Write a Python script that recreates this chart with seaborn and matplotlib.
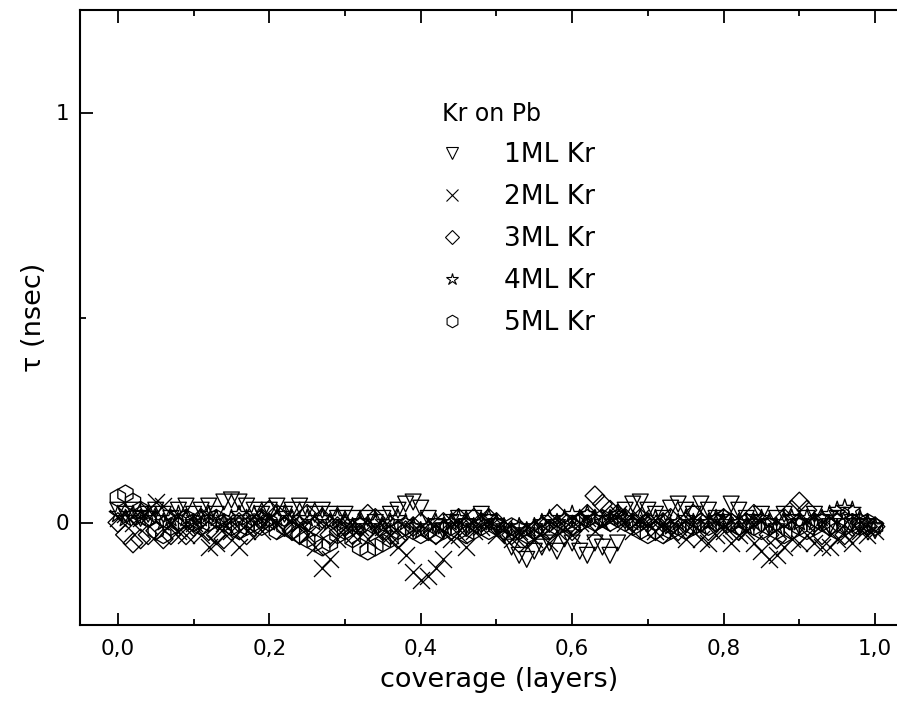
import matplotlib
matplotlib.use("Agg")
import matplotlib.pyplot as plt
import seaborn as sns
import pandas as pd
from matplotlib.lines import Line2D
from matplotlib.ticker import MultipleLocator, FuncFormatter

coverage = [0.00, 0.01, 0.02, 0.03, 0.04, 0.05, 0.06, 0.07, 0.08, 0.09,
            0.10, 0.11, 0.12, 0.13, 0.14, 0.15, 0.16, 0.17, 0.18, 0.19,
            0.20, 0.21, 0.22, 0.23, 0.24, 0.25, 0.26, 0.27, 0.28, 0.29,
            0.30, 0.31, 0.32, 0.33, 0.34, 0.35, 0.36, 0.37, 0.38, 0.39,
            0.40, 0.41, 0.42, 0.43, 0.44, 0.45, 0.46, 0.47, 0.48, 0.49,
            0.50, 0.51, 0.52, 0.53, 0.54, 0.55, 0.56, 0.57, 0.58, 0.59,
            0.60, 0.61, 0.62, 0.63, 0.64, 0.65, 0.66, 0.67, 0.68, 0.69,
            0.70, 0.71, 0.72, 0.73, 0.74, 0.75, 0.76, 0.77, 0.78, 0.79,
            0.80, 0.81, 0.82, 0.83, 0.84, 0.85, 0.86, 0.87, 0.88, 0.89,
            0.90, 0.91, 0.92, 0.93, 0.94, 0.95, 0.96, 0.97, 0.98, 0.99, 1.00]

tau_1ml = [0.03, 0.02, 0.03, 0.01, 0.02, 0.03, 0.02, 0.01, 0.03, 0.04,
           0.02, 0.03, 0.04, 0.02, 0.05, 0.055, 0.05, 0.04, 0.03, 0.02,
           0.03, 0.04, 0.02, 0.03, 0.04, 0.03, 0.02, 0.03, 0.02, 0.01,
           0.02, 0.01, -0.01, 0.01, 0.00, 0.01, 0.02, 0.03, 0.045, 0.05,
           0.035, 0.01, -0.01, -0.02, 0.00, 0.01, -0.01, 0.01, 0.02, 0.00,
           -0.01, -0.03, -0.06, -0.08, -0.09, -0.07, -0.06, -0.05, -0.07, -0.04,
           -0.05, -0.07, -0.08, -0.05, -0.06, -0.08, -0.05, 0.03, 0.045, 0.05,
           0.03, 0.02, 0.01, 0.035, 0.045, 0.03, 0.02, 0.045, 0.03, 0.01,
           0.00, 0.045, 0.03, 0.01, 0.00, 0.02, -0.01, 0.01, 0.02, 0.00,
           -0.01, 0.01, 0.02, 0.00, -0.01, 0.01, -0.01, 0.00, -0.01, -0.01, -0.02]

tau_2ml = [0.01, 0.02, 0.00, 0.01, 0.03, 0.05, 0.04, 0.00, -0.02, -0.03,
           0.00, -0.03, -0.06, -0.05, 0.00, -0.02, -0.06, -0.02, 0.00, -0.02,
           0.01, 0.00, -0.02, 0.01, 0.00, -0.03, -0.06, -0.11, -0.09, -0.04,
           -0.01, -0.03, -0.01, -0.04, -0.02, -0.01, -0.03, -0.06, -0.08, -0.12,
           -0.14, -0.13, -0.11, -0.09, -0.04, -0.03, -0.06, -0.02, -0.01, 0.00,
           -0.03, -0.01, -0.04, -0.02, -0.01, -0.04, -0.02, -0.05, -0.02, -0.01,
           -0.03, 0.00, 0.01, -0.02, 0.00, 0.01, 0.02, 0.00, -0.02, 0.01,
           0.00, -0.02, 0.00, -0.03, -0.01, -0.04, -0.02, -0.04, -0.05, -0.03,
           -0.02, -0.05, -0.03, -0.02, -0.05, -0.07, -0.09, -0.08, -0.06, -0.04,
           -0.05, -0.03, -0.05, -0.06, -0.06, -0.04, -0.03, -0.05, -0.02, -0.03, -0.02]

tau_3ml = [0.00, -0.03, -0.05, -0.04, -0.03, -0.02, -0.04, -0.03, -0.01, -0.03,
           -0.01, 0.01, -0.02, -0.03, -0.04, -0.02, 0.00, -0.03, -0.01, 0.01,
           0.03, 0.02, -0.01, -0.02, -0.03, 0.02, -0.01, 0.01, -0.03, -0.01,
           -0.01, -0.03, -0.01, 0.02, 0.01, -0.02, -0.03, -0.04, -0.02, -0.01,
           0.00, -0.02, -0.03, 0.00, -0.02, 0.01, -0.01, 0.01, 0.00, 0.01,
           0.00, -0.02, -0.03, -0.05, -0.04, -0.02, -0.01, 0.00, 0.02, 0.00,
           -0.02, 0.00, 0.02, 0.065, 0.045, 0.03, 0.02, 0.01, 0.00, 0.01,
           0.00, -0.02, 0.00, 0.01, -0.02, 0.00, 0.02, 0.00, -0.02, 0.00,
           0.01, 0.00, -0.02, 0.00, 0.02, 0.00, -0.03, -0.04, 0.01, 0.03,
           0.05, 0.03, 0.00, -0.03, -0.01, 0.00, -0.03, -0.01, 0.00, -0.01, -0.01]

tau_4ml = [0.02, 0.01, 0.02, 0.01, 0.02, 0.01, 0.00, 0.01, 0.02, 0.01,
           0.00, 0.01, 0.02, 0.01, 0.00, 0.01, 0.02, 0.01, 0.02, 0.01,
           0.00, 0.01, 0.02, 0.01, 0.00, 0.01, 0.00, 0.01, 0.00, 0.01,
           0.00, -0.01, 0.00, -0.01, 0.00, -0.01, 0.00, 0.01, 0.00, -0.01,
           -0.02, -0.01, 0.00, -0.01, 0.00, 0.01, 0.00, -0.01, 0.00, 0.01,
           0.00, -0.01, -0.02, -0.01, -0.02, -0.01, 0.00, 0.01, 0.00, 0.01,
           0.02, 0.01, 0.02, 0.01, 0.00, 0.01, 0.02, 0.01, 0.00, 0.01,
           0.00, 0.01, 0.00, -0.01, 0.00, 0.01, 0.00, -0.01, 0.00, 0.01,
           0.00, -0.01, 0.00, -0.01, 0.00, 0.01, 0.00, -0.01, 0.00, 0.01,
           0.00, 0.01, 0.00, 0.01, 0.02, 0.03, 0.035, 0.03, 0.01, 0.00, -0.01]

tau_5ml = [0.06, 0.07, 0.05, 0.03, 0.01, -0.02, -0.03, -0.01, 0.00, 0.01,
           0.00, -0.01, 0.00, 0.01, 0.00, -0.01, -0.02, -0.01, 0.00, -0.01,
           0.00, -0.02, -0.01, -0.02, -0.03, -0.04, -0.05, -0.06, -0.05, -0.03,
           -0.02, -0.04, -0.06, -0.07, -0.06, -0.05, -0.04, -0.02, -0.01, -0.02,
           -0.03, -0.02, -0.03, -0.02, -0.01, -0.02, -0.03, -0.02, -0.01, -0.02,
           -0.01, -0.02, -0.01, -0.02, -0.03, -0.02, -0.01, -0.02, -0.01, 0.00,
           -0.01, 0.00, 0.01, 0.00, 0.01, 0.00, 0.01, 0.00, -0.01, -0.02,
           -0.03, -0.02, -0.03, -0.02, -0.01, -0.02, -0.01, 0.00, -0.01, 0.00,
           0.01, 0.00, -0.01, 0.00, -0.01, -0.02, -0.01, -0.02, -0.03, -0.02,
           -0.01, -0.02, -0.01, 0.00, -0.01, -0.02, -0.01, 0.00, -0.01, 0.00, -0.01]

series_labels = ["1ML Kr", "2ML Kr", "3ML Kr", "4ML Kr", "5ML Kr"]
series_values = [tau_1ml, tau_2ml, tau_3ml, tau_4ml, tau_5ml]
series_markers = ["v", "x", "D", "*", "h"]
legend_title = "Kr on Pb"
x_label = "coverage (layers)"
y_label = "\u03c4 (nsec)"

sns.set_style("ticks")
plt.rcParams['font.family'] = ['DejaVu Sans']
for key in ["text.color", "axes.labelcolor", "xtick.color", "ytick.color", "axes.edgecolor"]:
    plt.rcParams[key] = "black"

fig = plt.figure(figsize=(8.97, 7.01), dpi=100)
ax = fig.add_axes([80/897, 76/701, 817/897, 615/701])

sizes = {"v": 130, "x": 150, "D": 100, "*": 170, "h": 160}
for lab, vals, mk in zip(series_labels, series_values, series_markers):
    df = pd.DataFrame({"coverage": coverage, "tau": vals})
    if mk == "x":
        sns.scatterplot(data=df, x="coverage", y="tau", marker=mk, color="black",
                        s=sizes[mk], linewidth=0.95, ax=ax, legend=False)
    else:
        sns.scatterplot(data=df, x="coverage", y="tau", marker=mk, facecolor="none",
                        edgecolor="black", s=sizes[mk], linewidth=0.95, ax=ax, legend=False)

ax.set_xlim(-0.05, 1.029)
ax.set_ylim(-0.25, 1.25)
ax.xaxis.set_major_locator(MultipleLocator(0.2))
ax.xaxis.set_minor_locator(MultipleLocator(0.1))
ax.yaxis.set_major_locator(MultipleLocator(1.0))
ax.yaxis.set_minor_locator(MultipleLocator(0.5))
ax.xaxis.set_major_formatter(FuncFormatter(lambda v, p: f"{v:.1f}".replace(".", ",")))
ax.yaxis.set_major_formatter(FuncFormatter(lambda v, p: f"{v:.0f}"))
ax.tick_params(which="both", direction="in", top=True, right=False, width=1.3,
               labelsize=15.5)
ax.tick_params(axis="x", pad=10)
ax.tick_params(axis="y", pad=8)
ax.tick_params(which="major", length=9)
ax.tick_params(which="minor", length=4.5)
for sp in ax.spines.values():
    sp.set_linewidth(1.5)
ax.spines["right"].set_visible(False)
ax.set_xlabel(x_label, fontsize=19.5, labelpad=6)
ax.xaxis.label.set_x((499 - 80) / 817)
ax.set_ylabel(y_label, fontsize=19.5, labelpad=6)

handles = []
for mk in series_markers:
    if mk == "x":
        handles.append(Line2D([], [], marker=mk, ls="none", color="black", ms=9, mew=0.8))
    else:
        handles.append(Line2D([], [], marker=mk, ls="none", mfc="none", mec="black",
                              ms=9 if mk != "D" else 7, mew=0.8))
leg = ax.legend(handles, series_labels, title=legend_title, frameon=False,
                loc="upper left", bbox_to_anchor=(442/897, 1 - 102/701),
                bbox_transform=fig.transFigure, fontsize=19, title_fontsize=17,
                labelspacing=0.61, handlelength=0.75, handletextpad=1.6,
                borderpad=0, borderaxespad=0, alignment="left")

fig.savefig("out.png", dpi=100)
